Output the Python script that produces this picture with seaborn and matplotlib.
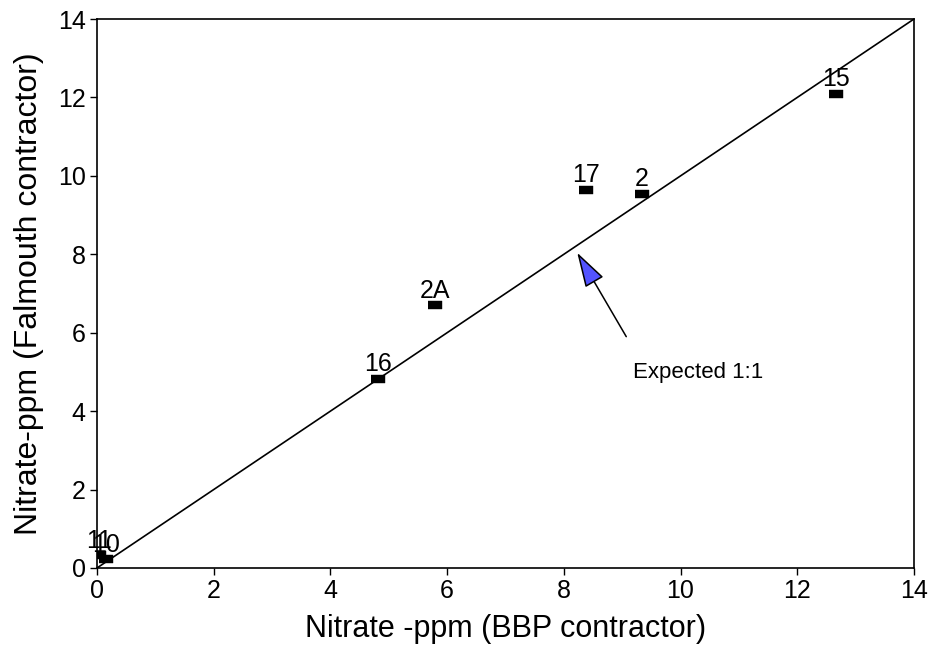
import numpy as np
import pandas as pd
import matplotlib
matplotlib.use("Agg")
import matplotlib.pyplot as plt
import seaborn as sns

# data
sites = ['11', '10', '16', '2A', '17', '2', '15']
bbp = [0.04, 0.15, 4.82, 5.79, 8.38, 9.34, 12.66]
falmouth = [0.32, 0.22, 4.83, 6.70, 9.64, 9.54, 12.09]

line_x = [0, 14]
line_y = [0, 14]
ticks = [0, 2, 4, 6, 8, 10, 12, 14]

df = pd.DataFrame({'Site': sites, 'BBP': bbp, 'Falmouth': falmouth})

sns.set_style('ticks')
plt.rcParams['font.family'] = ['Liberation Sans', 'DejaVu Sans']
plt.rcParams['text.color'] = 'black'
plt.rcParams['axes.labelcolor'] = 'black'

fig = plt.figure(figsize=(9.35, 6.54), dpi=100)
ax = fig.add_axes([0.1037, 0.1315, 0.8738, 0.8394])

# 1:1 line
sns.lineplot(x=line_x, y=line_y, ax=ax, color='black', linewidth=1.2)

# rectangular markers
rect = [(-1, -0.58), (1, -0.58), (1, 0.58), (-1, 0.58)]
sns.scatterplot(data=df, x='BBP', y='Falmouth', ax=ax, marker=rect, s=95,
                color='black', edgecolor='black', linewidth=0.3, zorder=3)

for name, xv, yv in zip(sites, bbp, falmouth):
    ax.annotate(name, (xv, yv), xytext=(0, 2), textcoords='offset points',
                ha='center', va='bottom', fontsize=18)

# arrow pointing at the line
ax.annotate('', xy=(8.23, 8.04), xytext=(9.07, 5.90),
            arrowprops=dict(arrowstyle='-|>,head_length=1.1,head_width=0.33',
                            mutation_scale=20, fc='#5353ff', ec='black', lw=1.1,
                            shrinkA=0, shrinkB=0))
ax.text(9.19, 4.99, 'Expected 1:1', fontsize=16, ha='left', va='center')

ax.set_xlim(0, 14)
ax.set_ylim(0, 14)
ax.set_xticks(ticks)
ax.set_yticks(ticks)
ax.tick_params(labelsize=18, length=5, width=1, direction='out', pad=3, colors='black')
for sp in ax.spines.values():
    sp.set_linewidth(1.2)
    sp.set_color('black')

ax.set_xlabel('Nitrate -ppm (BBP contractor)', fontsize=22, labelpad=8)
ax.set_ylabel('Nitrate-ppm (Falmouth contractor)', fontsize=23, labelpad=10)

fig.savefig('out.png', dpi=100)
